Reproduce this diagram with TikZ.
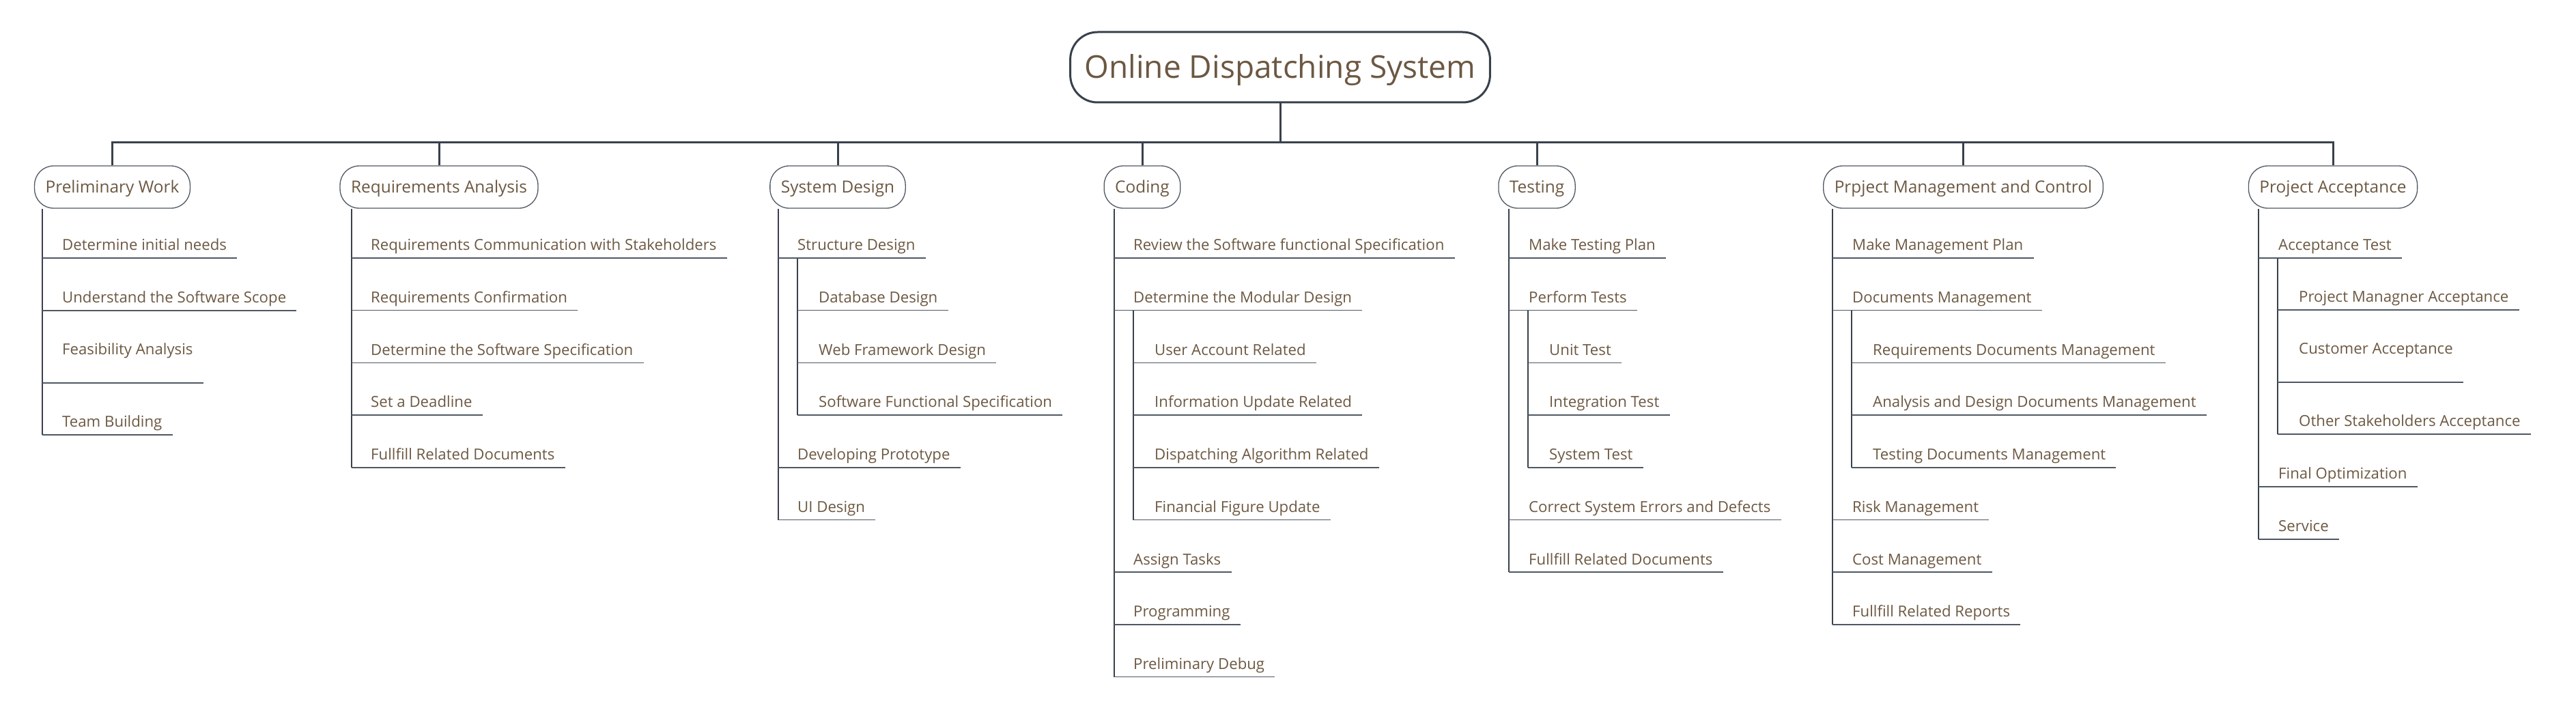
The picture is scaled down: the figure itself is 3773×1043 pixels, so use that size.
\documentclass[tikz,border=0pt]{standalone}
\usepackage{fontspec}
\setmainfont{Open Sans}
\definecolor{txt}{RGB}{108,88,66}
\definecolor{ln}{RGB}{56,65,75}
\definecolor{lnl}{RGB}{78,88,99}
\begin{document}
\begin{tikzpicture}[x=1pt,y=-1pt,
  rootbox/.style={draw=ln, line width=3pt, rounded corners=40pt, minimum height=103pt,
    inner xsep=21pt, inner ysep=0pt, text height=33pt, text depth=0pt,
    font=\fontsize{46}{50}\selectfont, text=txt},
  lone/.style={draw=lnl, line width=1.3pt, rounded corners=28pt, minimum height=62pt,
    inner xsep=16pt, inner ysep=0pt, text height=17.4pt, text depth=0pt,
    font=\fontsize{24.4}{28}\selectfont, text=txt},
  ch/.style={anchor=south west, inner sep=0pt, text depth=11pt,
    font=\fontsize{22.2}{26}\selectfont, text=txt,
    execute at begin node={\hspace*{#1pt}}, execute at end node={\hspace*{15pt}}},
  ch/.default=29,
  tall/.style={text depth=41pt},
  bar/.style={draw=ln, line width=3pt},
  vl/.style={draw=ln, line width=2.3pt},
  ul/.style={draw=lnl, line width=1.5pt}]
\useasboundingbox (0,0) rectangle (3773,1043);

% root
\node[rootbox] (root) at (1875,98.5) {Online Dispatching System};
\coordinate (bus) at (0,209);

% level 1
\node[lone] (pw) at (164.5,274) {Preliminary Work};
\node[lone] (ra) at (643,274) {Requirements Analysis};
\node[lone] (sd) at (1227,274) {System Design};
\node[lone] (cd) at (1673,274) {Coding};
\node[lone] (ts) at (2251,274) {Testing};
\node[lone] (pm) at (2875.5,274) {Prpject Management and Control};
\node[lone] (pa) at (3417,274) {Project Acceptance};

\draw[bar] (root.south) -- (root.south |- bus);
\draw[bar] (pw.north) |- (bus -| pa.north) -- (pa.north);
\foreach \n in {ra,sd,cd,ts,pm} \draw[bar] (\n.north) -- (\n.north |- bus);

% Preliminary Work
\node[ch] (pw1) at (62,378) {Determine initial needs};
\node[ch] (pw2) at (62,455) {Understand the Software Scope};
\node[ch,tall] (pw3) at (62,561) {Feasibility Analysis};
\node[ch] (pw4) at (62,637) {Team Building};
\draw[vl] (pw.south -| pw1.south west) -- (pw4.south west);
\foreach \n in {pw1,pw2,pw3,pw4} \draw[ul] (\n.south west) -- (\n.south east);

% Requirements Analysis
\node[ch=28] (ra1) at (515,378) {Requirements Communication with Stakeholders};
\node[ch=28] (ra2) at (515,454.7) {Requirements Confirmation};
\node[ch=28] (ra3) at (515,531.4) {Determine the Software Specification};
\node[ch=28] (ra4) at (515,608.1) {Set a Deadline};
\node[ch=28] (ra5) at (515,684.8) {Fullfill Related Documents};
\draw[vl] (ra.south -| ra1.south west) -- (ra5.south west);
\foreach \n in {ra1,ra2,ra3,ra4,ra5} \draw[ul] (\n.south west) -- (\n.south east);

% System Design
\node[ch=28] (sd1) at (1140,378) {Structure Design};
\node[ch=31] (sd1a) at (1168,454.7) {Database Design};
\node[ch=31] (sd1b) at (1168,531.4) {Web Framework Design};
\node[ch=31] (sd1c) at (1168,608.1) {Software Functional Specification};
\node[ch=28] (sd2) at (1140,684.8) {Developing Prototype};
\node[ch=28] (sd3) at (1140,761.5) {UI Design};
\draw[vl] (sd.south -| sd1.south west) -- (sd3.south west);
\draw[vl] (sd1.south -| sd1a.south west) -- (sd1c.south west);
\foreach \n in {sd1,sd1a,sd1b,sd1c,sd2,sd3} \draw[ul] (\n.south west) -- (\n.south east);

% Coding
\node[ch=28] (cd1) at (1632,378) {Review the Software functional Specification};
\node[ch=28] (cd2) at (1632,454.7) {Determine the Modular Design};
\node[ch=31] (cd2a) at (1660,531.4) {User Account Related};
\node[ch=31] (cd2b) at (1660,608.1) {Information Update Related};
\node[ch=31] (cd2c) at (1660,684.8) {Dispatching Algorithm Related};
\node[ch=31] (cd2d) at (1660,761.5) {Financial Figure Update};
\node[ch=28] (cd3) at (1632,838.2) {Assign Tasks};
\node[ch=28] (cd4) at (1632,914.9) {Programming};
\node[ch=28] (cd5) at (1632,991.6) {Preliminary Debug};
\draw[vl] (cd.south -| cd1.south west) -- (cd5.south west);
\draw[vl] (cd2.south -| cd2a.south west) -- (cd2d.south west);
\foreach \n in {cd1,cd2,cd2a,cd2b,cd2c,cd2d,cd3,cd4,cd5} \draw[ul] (\n.south west) -- (\n.south east);

% Testing
\node[ch] (ts1) at (2210,378) {Make Testing Plan};
\node[ch] (ts2) at (2210,454.7) {Perform Tests};
\node[ch=31] (ts2a) at (2238,531.4) {Unit Test};
\node[ch=31] (ts2b) at (2238,608.1) {Integration Test};
\node[ch=31] (ts2c) at (2238,684.8) {System Test};
\node[ch] (ts3) at (2210,761.5) {Correct System Errors and Defects};
\node[ch] (ts4) at (2210,838.2) {Fullfill Related Documents};
\draw[vl] (ts.south -| ts1.south west) -- (ts4.south west);
\draw[vl] (ts2.south -| ts2a.south west) -- (ts2c.south west);
\foreach \n in {ts1,ts2,ts2a,ts2b,ts2c,ts3,ts4} \draw[ul] (\n.south west) -- (\n.south east);

% Project Management and Control
\node[ch] (pm1) at (2684,378) {Make Management Plan};
\node[ch] (pm2) at (2684,454.7) {Documents Management};
\node[ch=31] (pm2a) at (2712,531.4) {Requirements Documents Management};
\node[ch=31] (pm2b) at (2712,608.1) {Analysis and Design Documents Management};
\node[ch=31] (pm2c) at (2712,684.8) {Testing Documents Management};
\node[ch] (pm3) at (2684,761.5) {Risk Management};
\node[ch] (pm4) at (2684,838.2) {Cost Management};
\node[ch] (pm5) at (2684,914.9) {Fullfill Related Reports};
\draw[vl] (pm.south -| pm1.south west) -- (pm5.south west);
\draw[vl] (pm2.south -| pm2a.south west) -- (pm2c.south west);
\foreach \n in {pm1,pm2,pm2a,pm2b,pm2c,pm3,pm4,pm5} \draw[ul] (\n.south west) -- (\n.south east);

% Project Acceptance
\node[ch] (pa1) at (3308,378) {Acceptance Test};
\node[ch=31] (pa1a) at (3336,454) {Project Managner Acceptance};
\node[ch=31,tall] (pa1b) at (3336,560) {Customer Acceptance};
\node[ch=31] (pa1c) at (3336,636) {Other Stakeholders Acceptance};
\node[ch] (pa2) at (3308,713) {Final Optimization};
\node[ch] (pa3) at (3308,790) {Service};
\draw[vl] (pa.south -| pa1.south west) -- (pa3.south west);
\draw[vl] (pa1.south -| pa1a.south west) -- (pa1c.south west);
\foreach \n in {pa1,pa1a,pa1b,pa1c,pa2,pa3} \draw[ul] (\n.south west) -- (\n.south east);
\end{tikzpicture}
\end{document}
